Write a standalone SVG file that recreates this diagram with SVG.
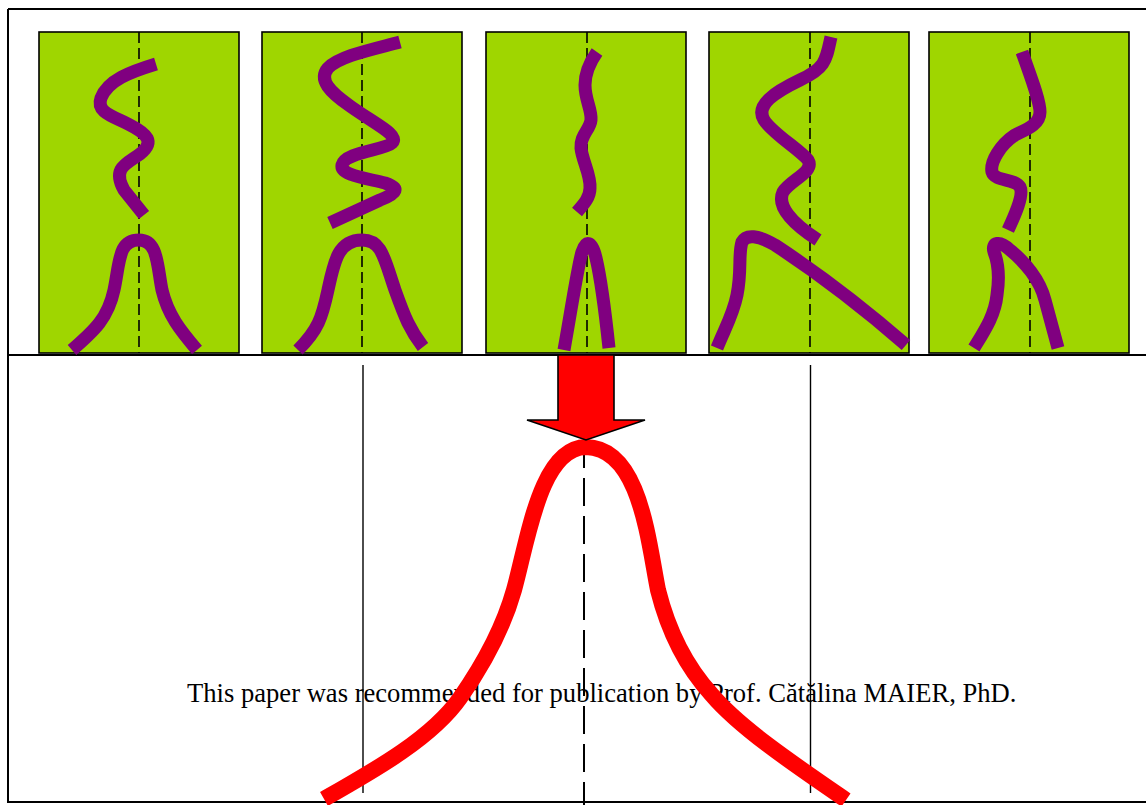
<svg xmlns="http://www.w3.org/2000/svg" width="1146" height="805" viewBox="0 0 1146 805">
<style>
.panel{fill:#9fd600;stroke:#000;stroke-width:1.6}
.axis{stroke:#000;stroke-width:1.6;stroke-dasharray:11 5;fill:none}
.wave{fill:none;stroke:#800080;stroke-width:13;stroke-linecap:butt;stroke-linejoin:round}
.frame{stroke:#000;stroke-width:2;fill:none}
.vline{stroke:#000;stroke-width:1.4;fill:none}
.caption{font-family:"Liberation Serif","Times New Roman",serif;font-size:26.6px;fill:#000}
</style>
<rect width="1146" height="805" fill="#fff"/>
<g id="frame">
<path class="frame" d="M8 9 H1146 M8 9 V803 M8 802 H1146 M8 355 H1146"/>
</g>
<g id="panel1">
<rect class="panel" x="39" y="32" width="200" height="321"/>
<line class="axis" x1="139" y1="32" x2="139" y2="353"/>
<path class="wave" d="M156 64 C130 72,108 80,101 98 C96 112,112 116,128 124 C148 134,155 142,140 154 C126 164,112 168,124 190 L144 215"/>
<path class="wave" d="M72 350 C95 330,108 318,114 290 C120 262,118 240,139 240 C158 240,157 265,162 290 C168 315,180 330,197 350"/>
</g>
<g id="panel2">
<rect class="panel" x="262" y="32" width="200" height="321"/>
<line class="axis" x1="362" y1="32" x2="362" y2="353"/>
<path class="wave" d="M400 42 C370 50,340 56,328 68 C318 80,330 92,350 106 C375 124,400 135,392 143 C385 150,345 152,342 165 C340 175,365 178,385 183 C400 188,398 193,380 200 L330 223"/>
<path class="wave" d="M298 350 C318 330,322 318,328 290 C334 262,338 240,362 240 C382 240,384 258,395 290 C405 318,410 330,423 347"/>
</g>
<g id="panel3">
<rect class="panel" x="486" y="32" width="200" height="321"/>
<line class="axis" x1="587" y1="32" x2="587" y2="353"/>
<path class="wave" d="M597 52 C590 62,585 72,585 85 C585 100,592 110,591 120 C590 130,580 135,581 148 C582 160,591 175,590 188 C590 198,583 205,577 212"/>
<path class="wave" d="M564 350 C572 305,578 265,582 252 C586 240,592 240,596 258 C600 275,605 310,609 348"/>
</g>
<g id="panel4">
<rect class="panel" x="709" y="32" width="200" height="321"/>
<line class="axis" x1="810" y1="32" x2="810" y2="353"/>
<path class="wave" d="M831 37 C826 60,826 68,800 80 C775 92,755 105,764 120 C772 133,800 150,808 160 C815 172,790 180,783 192 C777 205,790 222,818 240"/>
<path class="wave" d="M717 348 C725 328,733 315,737 295 C742 270,738 255,742 242 C746 234,758 235,775 245 C810 268,860 305,906 345"/>
</g>
<g id="panel5">
<rect class="panel" x="929" y="32" width="200" height="321"/>
<line class="axis" x1="1030" y1="32" x2="1030" y2="353"/>
<path class="wave" d="M1022 52 C1030 75,1040 100,1040 112 C1040 125,1025 130,1015 135 C1000 145,990 162,992 172 C995 182,1015 178,1020 187 C1024 195,1015 215,1008 230"/>
<path class="wave" d="M974 348 C985 330,995 315,997 295 C1000 275,998 262,994 252 C991 242,1000 240,1010 250 C1025 262,1040 280,1045 300 L1058 348"/>
</g>
<g id="caption">
<text class="caption" x="187" y="702">This paper was recommended for publication by Prof. Cătălina MAIER, PhD.</text>
</g>
<g id="result">
<line class="vline" x1="363" y1="365" x2="363" y2="793"/>
<line class="vline" x1="810.5" y1="365" x2="810.5" y2="793"/>
<line x1="584" y1="440" x2="584" y2="805" stroke="#000" stroke-width="2" stroke-dasharray="28 10"/>
<path fill="none" stroke="#ff0000" stroke-width="16" d="M324 799 C375 770,432 738,460 698 C488 658,505 622,514 590 C528 540,540 448,586 447 C640 448,648 540,658 590 C666 622,680 660,712 695 C740 728,795 765,846 800"/>
</g>
<g id="connectors">
<polygon points="558,355 614,355 614,420 645,420 586,440 527,420 558,420" fill="#ff0000" stroke="#000" stroke-width="1.6" stroke-linejoin="miter"/>
</g>
</svg>
